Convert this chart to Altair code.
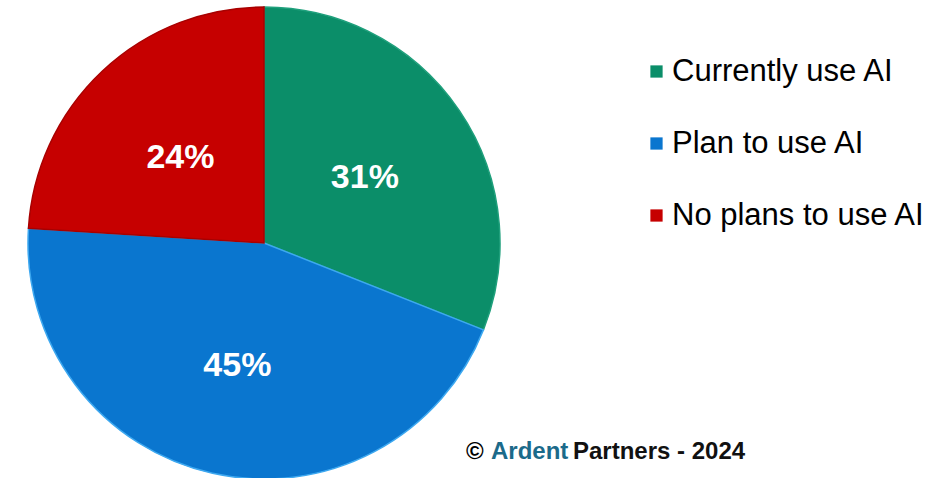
import altair as alt
import pandas as pd

categories = ["Currently use AI", "Plan to use AI", "No plans to use AI"]
values = [31, 45, 24]
colors = ["#0B8E69", "#0A76CF", "#C60000"]
edge_colors = ["#1FA07C", "#3DA8F0", "#A80000"]
order = [1, 2, 3]

df = pd.DataFrame({"category": categories, "value": values, "order": order})

CX, CY, R = 264, 243, 236
FONT = "Liberation Sans"

base = alt.Chart(df).encode(
    theta=alt.Theta("value:Q", stack=True),
    order=alt.Order("order:Q"),
)

pie = base.mark_arc(radius=R, strokeWidth=1.5).encode(
    x=alt.value(CX),
    y=alt.value(CY),
    color=alt.Color(
        "category:N",
        scale=alt.Scale(domain=categories, range=colors),
        legend=alt.Legend(
            title=None,
            orient="none",
            legendX=641,
            legendY=56,
            padding=0,
            symbolType="square",
            symbolSize=150,
            symbolStrokeWidth=0,
            symbolOpacity=1,
            labelFontSize=31,
            labelFont=FONT,
            labelColor="#000000",
            labelOffset=0,
            rowPadding=40,
            labelLimit=400,
        ),
    ),
    stroke=alt.Stroke(
        "category:N",
        scale=alt.Scale(domain=categories, range=edge_colors),
        legend=None,
    ),
)

labels = base.transform_calculate(
    label="datum.value + '%'"
).mark_text(
    radius=122, dy=4, fontSize=34, fontWeight="bold", font=FONT, color="white"
).encode(
    x=alt.value(CX),
    y=alt.value(CY),
    text="label:N",
)

copy_parts = ["©", "Ardent", "Partners - 2024"]
copy_colors = ["#000000", "#1B6A8A", "#111111"]
copy_x = [466, 491, 573]
cdf = pd.DataFrame({"t": copy_parts, "c": copy_colors, "x": copy_x})
copyright = alt.Chart(cdf).mark_text(
    align="left", baseline="middle", fontSize=24, fontWeight="bold", font=FONT
).encode(
    x=alt.X("x:Q", scale=None),
    y=alt.value(452),
    text="t:N",
    color=alt.Color("c:N", scale=None),
)

chart = alt.layer(pie, labels, copyright).resolve_scale(color="independent").properties(
    width=930, height=478, padding=0, autosize=alt.AutoSizeParams(type="none"),
    background="white",
).configure_view(stroke=None)

chart.save("out.html", embed_options={"renderer": "svg", "actions": False})
